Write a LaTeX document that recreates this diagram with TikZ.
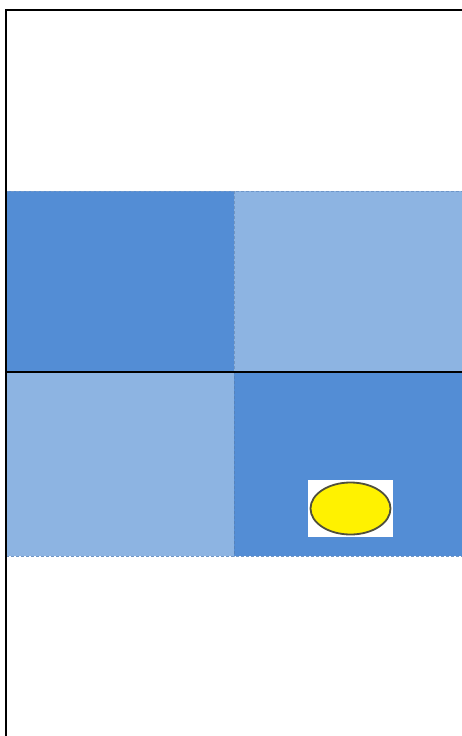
\documentclass[tikz,border=0pt]{standalone}
\usepackage{tikz}
\usetikzlibrary{positioning, shapes.geometric}
\definecolor{celldark}{RGB}{83, 141, 213}
\definecolor{celllight}{RGB}{141, 180, 226}
\definecolor{celledge}{RGB}{110, 150, 200}
\definecolor{ringgray}{RGB}{80, 80, 60}

\begin{document}
\begin{tikzpicture}[x=1pt, y=-1pt,
    cell/.style={draw=none, inner sep=0pt, minimum width=228pt, minimum height=181pt},
    seam/.style={celledge, densely dashed, line width=0.8pt}]
  \useasboundingbox (0, 0) rectangle (462, 736);

  % Cells
  \node[cell, fill=celldark, anchor=north west] (topleft) at (6, 191) {};
  \node[cell, fill=celllight, anchor=north west] (topright) at (234, 191) {};
  \node[cell, fill=celllight, anchor=north west, minimum height=184pt] (botleft) at (6, 372) {};
  \node[cell, fill=celldark, anchor=north west, minimum height=184pt] (botright) at (234, 372) {};

  % Seams
  \draw[seam] (topleft.north west) -- (topright.north east);
  \draw[seam] (botleft.south west) -- (botright.south east);
  \draw[seam, celledge!80!black, opacity=0.5] (topright.north west) -- (botright.south west);

  % Frame
  \draw[line width=2.4pt] (6, 736) -- (6, 10) -- (462, 10);
  \draw[line width=2pt] (topleft.south west) -- (topright.south east);

  % Marker
  \node[fill=white, inner sep=0pt, minimum width=85pt, minimum height=57pt] (patch) at (350.5, 508.5) {};
  \node[draw=ringgray, line width=1.8pt, fill=yellow, ellipse, inner sep=0pt,
    minimum width=80pt, minimum height=52pt] (blob) at (patch.center) {};
\end{tikzpicture}
\end{document}
